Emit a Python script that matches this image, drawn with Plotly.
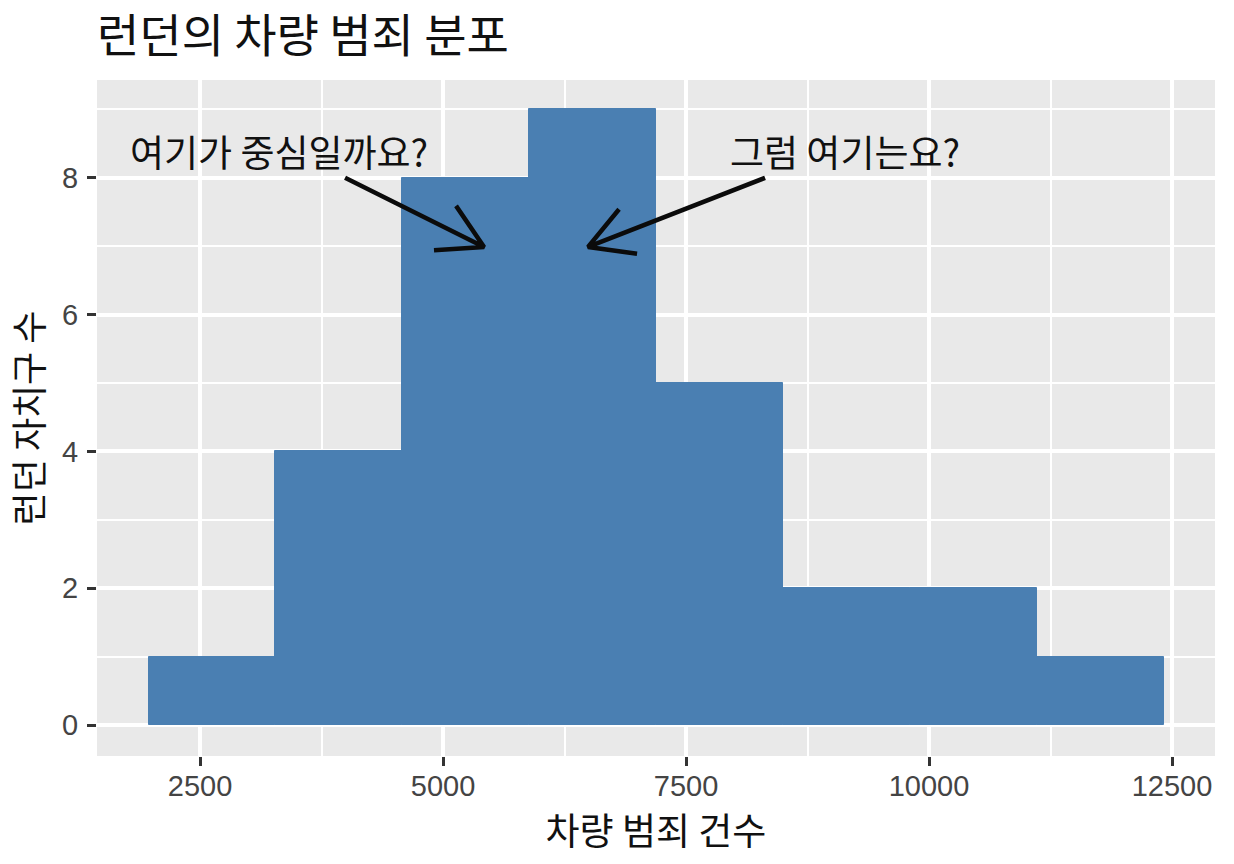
import plotly.graph_objects as go

# histogram bins
bin_edges = [1970, 3276, 4582, 5888, 7194, 8500, 9806, 11112, 12413]
counts = [1, 4, 8, 9, 5, 2, 2, 1]

x_ticks = [2500, 5000, 7500, 10000, 12500]
x_minor = [3750, 6250, 8750, 11250]
y_ticks = [0, 2, 4, 6, 8]
y_minor = [1, 3, 5, 7, 9]

title = "런던의 차량 범죄 분포"
x_title = "차량 범죄 건수"
y_title = "런던 자치구 수"

# annotation labels and arrows (start, tip, two head ends)
label_left = "여기가 중심일까요?"
label_right = "그럼 여기는요?"
arrow_left_x = [3992, 5422, 5134, 5422, 4907]
arrow_left_y = [8.0, 6.99, 7.59, 6.99, 6.94]
arrow_right_x = [8313, 6492, 6811, 6492, 6996]
arrow_right_y = [8.0, 6.99, 7.54, 6.99, 6.89]

KR = "Noto Sans CJK KR"
LATIN = "Liberation Sans"

centers = [(a + b) / 2 for a, b in zip(bin_edges[:-1], bin_edges[1:])]
widths = [b - a for a, b in zip(bin_edges[:-1], bin_edges[1:])]

fig = go.Figure()

fig.add_trace(go.Bar(
    x=centers,
    y=counts,
    width=widths,
    marker=dict(color="#4a7fb2", line=dict(color="#4a7fb2", width=1)),
    hoverinfo="x+y",
))

for xs, ys in [(arrow_left_x, arrow_left_y), (arrow_right_x, arrow_right_y)]:
    fig.add_trace(go.Scatter(
        x=xs,
        y=ys,
        mode="lines",
        line=dict(color="#0b0b0b", width=4.5),
        hoverinfo="skip",
    ))

fig.add_annotation(x=3313, y=8.39, yanchor="middle", text=label_left, showarrow=False,
                   font=dict(family=KR, size=37, color="#111111"))
fig.add_annotation(x=9131, y=8.39, yanchor="middle", text=label_right, showarrow=False,
                   font=dict(family=KR, size=37, color="#111111"))

fig.update_layout(
    width=1234,
    height=864,
    margin=dict(l=97, r=19, t=80, b=108),
    paper_bgcolor="white",
    plot_bgcolor="#e9e9e9",
    showlegend=False,
    bargap=0,
    title=dict(text=title, x=97 / 1234, xanchor="left", y=0.958, yanchor="middle",
               font=dict(family=KR, size=46, color="#111111")),
    xaxis=dict(
        range=[1440, 12942],
        tickmode="array",
        tickvals=x_ticks,
        tickformat="d",
        ticks="outside",
        ticklen=9,
        tickwidth=3,
        tickcolor="#333333",
        tickfont=dict(family=LATIN, size=29, color="#444444"),
        ticklabelstandoff=-5,
        gridcolor="white",
        gridwidth=3.5,
        zeroline=False,
        minor=dict(tickvals=x_minor, showgrid=True, gridcolor="white", gridwidth=2, ticks=""),
        title=dict(text=x_title, font=dict(family=KR, size=37, color="#111111"), standoff=0),
    ),
    yaxis=dict(
        range=[-0.453, 9.43],
        tickmode="array",
        tickvals=y_ticks,
        ticks="outside",
        ticklen=9,
        tickwidth=3,
        tickcolor="#333333",
        tickfont=dict(family=LATIN, size=29, color="#444444"),
        ticklabelstandoff=3,
        gridcolor="white",
        gridwidth=3.5,
        zeroline=False,
        minor=dict(tickvals=y_minor, showgrid=True, gridcolor="white", gridwidth=2, ticks=""),
        title=dict(text=y_title, font=dict(family=KR, size=36, color="#111111"), standoff=7),
    ),
)

fig.write_html("out.html", config=dict(displayModeBar=False),
               post_script="document.body.style.margin='0';")
